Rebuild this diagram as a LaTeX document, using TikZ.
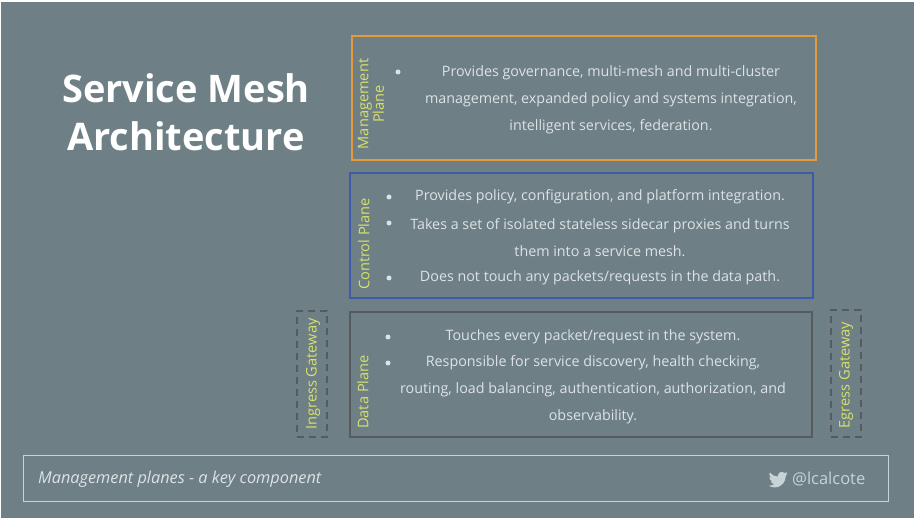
\documentclass[tikz,border=0pt]{standalone}
\usepackage{fontspec}
\setmainfont{Open Sans}
\definecolor{bg}{HTML}{6E7F86}
\definecolor{txt}{HTML}{DDE3E5}
\definecolor{lbl}{HTML}{D7E26B}
\definecolor{orng}{HTML}{E39A3C}
\definecolor{blu}{HTML}{3D5BA9}
\definecolor{dgr}{HTML}{565B5E}
\definecolor{foot}{HTML}{C9D3D6}
\tikzset{
  planebox/.style={draw, line width=2.6pt, minimum width=#1, inner sep=0pt},
  gwbox/.style={draw=dgr, line width=2pt, dash pattern=on 7pt off 5pt, minimum width=30pt, minimum height=126pt, inner sep=0pt},
  body/.style={text=txt, align=center, font=\fontsize{14.3}{27}\selectfont, inner sep=0pt},
  bul/.style={circle, fill=txt, minimum size=5pt, inner sep=0pt},
  vlabel/.style={text=lbl, rotate=90, align=center, font=\fontsize{14.6}{14}\selectfont, inner sep=0pt},
}
\begin{document}
\begin{tikzpicture}[x=1pt,y=-1pt]
\fill[white] (0,0) rectangle (915,518);
\fill[bg] (1,2) rectangle (914,518);
\useasboundingbox (0,0) rectangle (915,518);

% title
\node[text=white, align=center, font=\fontsize{38}{48}\selectfont\bfseries, inner sep=0pt] (title) at (186,112) {Service Mesh\\Architecture};

% management plane
\node[planebox=464pt, draw=orng, minimum height=124pt] (mgmt) at (584,98) {};
\node[vlabel, font=\fontsize{14.6}{13.5}\selectfont] (mgmtlbl) at (371,104) {Management\\Plane};
\node[bul] (mb1) at (398,72) {};
\node[body] (mtext) at (611,100) {Provides governance, multi-mesh and multi-cluster\\management, expanded policy and systems integration,\\intelligent services, federation.};

% control plane
\node[planebox=463pt, draw=blu, minimum height=125pt] (ctrl) at (581.5,235.5) {};
\node[vlabel] (ctrllbl) at (364,244) {Control Plane};
\node[bul] (cb1) at (389,197) {};
\node[bul] (cb2) at (389,223) {};
\node[bul] (cb3) at (389,278) {};
\node[body] (ct1) at (600,197) {Provides policy, configuration, and platform integration.};
\node[body] (ct2) at (600,237.5) {Takes a set of isolated stateless sidecar proxies and turns\\them into a service mesh.};
\node[body] (ct3) at (600,278) {Does not touch any packets/requests in the data path.};

% data plane
\node[planebox=462pt, draw=dgr, minimum height=125pt] (data) at (581,374.5) {};
\node[vlabel] (datalbl) at (363,392) {Data Plane};
\node[bul] (db1) at (388,337) {};
\node[bul] (db2) at (388,363) {};
\node[body] (dt1) at (593,337) {Touches every packet/request in the system.};
\node[body] (dt2) at (593,390) {Responsible for service discovery, health checking,\\routing, load balancing, authentication, authorization, and\\observability.};

% gateways
\node[gwbox] (ingress) at (312,374) {};
\node[vlabel] (inglbl) at (313,374) {Ingress Gateway};
\node[gwbox] (egress) at (845.5,373.5) {};
\node[vlabel] (egrlbl) at (846,375) {Egress Gateway};

% footer
\node[draw=foot, line width=1pt, minimum width=865pt, minimum height=46pt, inner sep=0pt] (footer) at (455.5,478) {};
\node[text=txt, anchor=west, font=\fontsize{16.3}{18}\selectfont\itshape, inner sep=0pt] (foottext) at (38,479) {Management planes - a key component};
\node[text=foot, anchor=west, font=\fontsize{16.5}{18}\selectfont, inner sep=0pt] (handle) at (792,479) {@lcalcote};
\begin{scope}[shift={(768.5,470)}, x=0.8pt, y=-0.8pt]
\fill[foot] (23.954,4.569) -- (21.129,5.344) -- (23.292,2.621) -- (20.165,3.805)
  .. controls (19.2,2.8) and (17.9,2.246) .. (16.574,2.246)
  .. controls (13.9,2.246) and (11.654,4.45) .. (11.654,7.163)
  -- (11.781,8.287)
  .. controls (7.691,8.094) and (4.066,6.13) .. (1.64,3.161)
  -- (0.974,5.636)
  .. controls (0.974,7.346) and (1.844,8.85) .. (3.162,9.732)
  -- (0.934,9.116) -- (0.934,9.177)
  .. controls (0.934,11.56) and (2.627,13.55) .. (4.88,14.004)
  -- (3.584,14.175) -- (2.668,14.089)
  .. controls (3.3,16.04) and (5.11,17.47) .. (7.272,17.506)
  .. controls (5.59,18.83) and (3.46,19.611) .. (1.17,19.611)
  -- (0,19.544)
  .. controls (2.19,20.94) and (4.77,21.753) .. (7.557,21.753)
  .. controls (16.61,21.753) and (21.556,14.257) .. (21.556,7.767)
  -- (21.541,7.137)
  .. controls (22.5,6.45) and (23.34,5.58) .. (24.001,4.589) -- cycle;
\end{scope}
\end{tikzpicture}
\end{document}
